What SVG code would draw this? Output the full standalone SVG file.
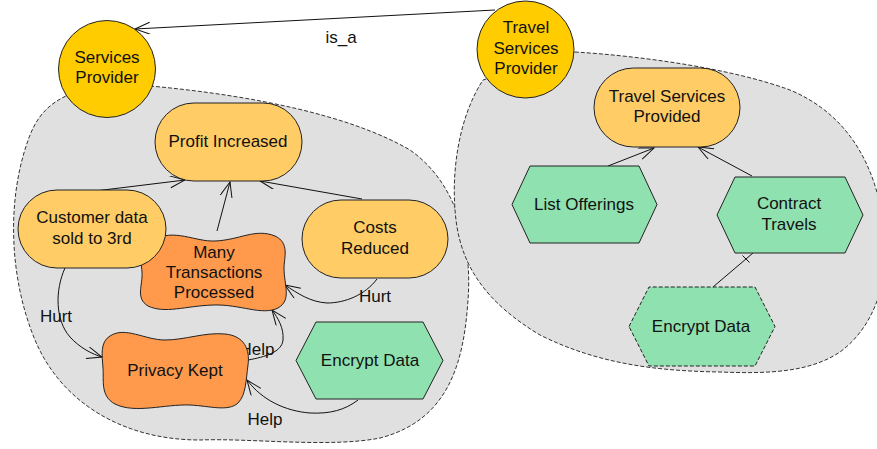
<svg xmlns="http://www.w3.org/2000/svg" width="877" height="449" viewBox="0 0 877 449">
<style>
.bnd{fill:#E0E0E0;stroke:#333;stroke-width:1;stroke-dasharray:4,2}
.actor{fill:#FFCC00;stroke:#222;stroke-width:1}
.goal{fill:#FFCC66;stroke:#222;stroke-width:1}
.soft{fill:#FF9A4D;stroke:#222;stroke-width:1}
.task{fill:#90E1B0;stroke:#222;stroke-width:1}
.dash{stroke-dasharray:4,2}
.lnk{fill:none;stroke:#111;stroke-width:1}
text{font-family:"Liberation Sans",Arial,sans-serif;font-size:17px;fill:#111;text-anchor:middle}
</style>
<defs>
<marker id="arr" markerWidth="18" markerHeight="14" refX="16" refY="6" orient="auto" markerUnits="userSpaceOnUse">
<path d="M1,0 L16,6 L1,12" fill="none" stroke="#111" stroke-width="1"/>
</marker>
</defs>
<g id="boundary-services">
<path class="bnd" d="M 150,86 C 250,95 350,115 410,150 C 460,185 472,250 468,300 C 464,360 450,420 380,438 C 330,448 250,438 200,440 C 120,440 60,400 35,340 C 10,280 5,200 30,135 C 40,110 55,100 75,92 Z"/>
</g>
<g id="boundary-travel">
<path class="bnd" d="M 575,52 C 640,56 730,68 790,90 C 850,115 880,170 885,240 C 888,290 870,330 840,352 C 810,372 770,374 720,372 C 660,371 600,365 540,335 C 490,305 462,270 456,220 C 450,170 460,115 483,80 Z"/>
</g>
<g id="connectors">
<path class="lnk" d="M 495,10 L 135,29" marker-end="url(#arr)"/>
<text x="341" y="43">is_a</text>
<path class="lnk" d="M 95,191 L 185,180" marker-end="url(#arr)"/>
<path class="lnk" d="M 217,231 L 230,182" marker-end="url(#arr)"/>
<path class="lnk" d="M 362,199 L 260,181" marker-end="url(#arr)"/>
<path class="lnk" d="M 377,279 C 365,295 345,303 327,303 C 310,302 297,293 285,285" marker-end="url(#arr)"/>
<text x="375" y="302">Hurt</text>
<path class="lnk" d="M 65,268 C 55,290 55,320 70,337 C 80,348 92,354 102,357" marker-end="url(#arr)"/>
<text x="56" y="322">Hurt</text>
<path class="lnk" d="M 248,360 C 265,357 282,352 283,340 C 284,328 278,318 272,310" marker-end="url(#arr)"/>
<text x="257" y="355">Help</text>
<path class="lnk" d="M 358,400 C 345,410 330,414 310,413 C 285,411 262,400 247,380" marker-end="url(#arr)"/>
<text x="265" y="425">Help</text>
<path class="lnk" d="M 608,166 L 654,148" marker-end="url(#arr)"/>
<path class="lnk" d="M 752,176 L 698,147" marker-end="url(#arr)"/>
<path class="lnk" d="M 713,287 L 753,253"/>
<path class="lnk" d="M 742.5,255.5 L 749.5,262.5"/>
</g>
<g id="services-provider">
<circle class="actor" cx="107" cy="69" r="48.5"/>
<text x="107" y="63">Services</text>
<text x="107" y="83">Provider</text>
</g>
<g id="travel-services-provider">
<circle class="actor" cx="525.5" cy="49.5" r="48.5"/>
<text x="526" y="33">Travel</text>
<text x="526" y="54">Services</text>
<text x="526" y="74">Provider</text>
</g>
<g id="profit-increased">
<rect class="goal" x="155" y="103" width="147" height="78" rx="39"/>
<text x="228" y="147">Profit Increased</text>
</g>
<g id="many-transactions">
<path class="soft" d="M 152,240 C 175,228 195,242 215,241 C 240,240 255,228 275,236 C 290,243 284,258 284,268 C 284,285 292,300 278,308 C 262,316 240,304 213,305 C 185,306 165,314 148,306 C 135,298 143,285 142,272 C 141,258 136,248 152,240 Z"/>
<text x="214" y="258">Many</text>
<text x="214" y="278">Transactions</text>
<text x="214" y="298">Processed</text>
</g>
<g id="customer-data">
<rect class="goal" x="18" y="190" width="148" height="78" rx="39"/>
<text x="92" y="223">Customer data</text>
<text x="92" y="244">sold to 3rd</text>
</g>
<g id="costs-reduced">
<rect class="goal" x="302" y="200" width="146" height="78" rx="39"/>
<text x="375" y="233">Costs</text>
<text x="375" y="254">Reduced</text>
</g>
<g id="privacy-kept">
<path class="soft" d="M 110,336 C 125,326 145,340 165,340 C 185,340 205,332 225,334 C 245,336 250,350 248,365 C 246,380 246,395 238,403 C 228,412 210,406 190,405 C 165,404 135,414 115,404 C 100,396 104,380 103,368 C 102,355 100,342 110,336 Z"/>
<text x="175" y="376">Privacy Kept</text>
</g>
<g id="encrypt-data-left">
<polygon class="task" points="296,360.5 316,322 423,322 443,360.5 423,399 316,399"/>
<text x="370" y="366">Encrypt Data</text>
</g>
<g id="travel-services-provided">
<rect class="goal" x="594" y="68" width="146" height="79" rx="39.5"/>
<text x="667" y="102">Travel Services</text>
<text x="667" y="122">Provided</text>
</g>
<g id="list-offerings">
<polygon class="task" points="512,204.5 530,166 639,166 657,204.5 639,243 530,243"/>
<text x="584" y="210">List Offerings</text>
</g>
<g id="contract-travels">
<polygon class="task" points="717,215 735,177 845,177 863,215 845,253 735,253"/>
<text x="789" y="209">Contract</text>
<text x="789" y="230">Travels</text>
</g>
<g id="encrypt-data-right">
<polygon class="task dash" points="629,326.5 649,287 755,287 775,326.5 755,366 649,366"/>
<text x="701" y="332">Encrypt Data</text>
</g>
</svg>
